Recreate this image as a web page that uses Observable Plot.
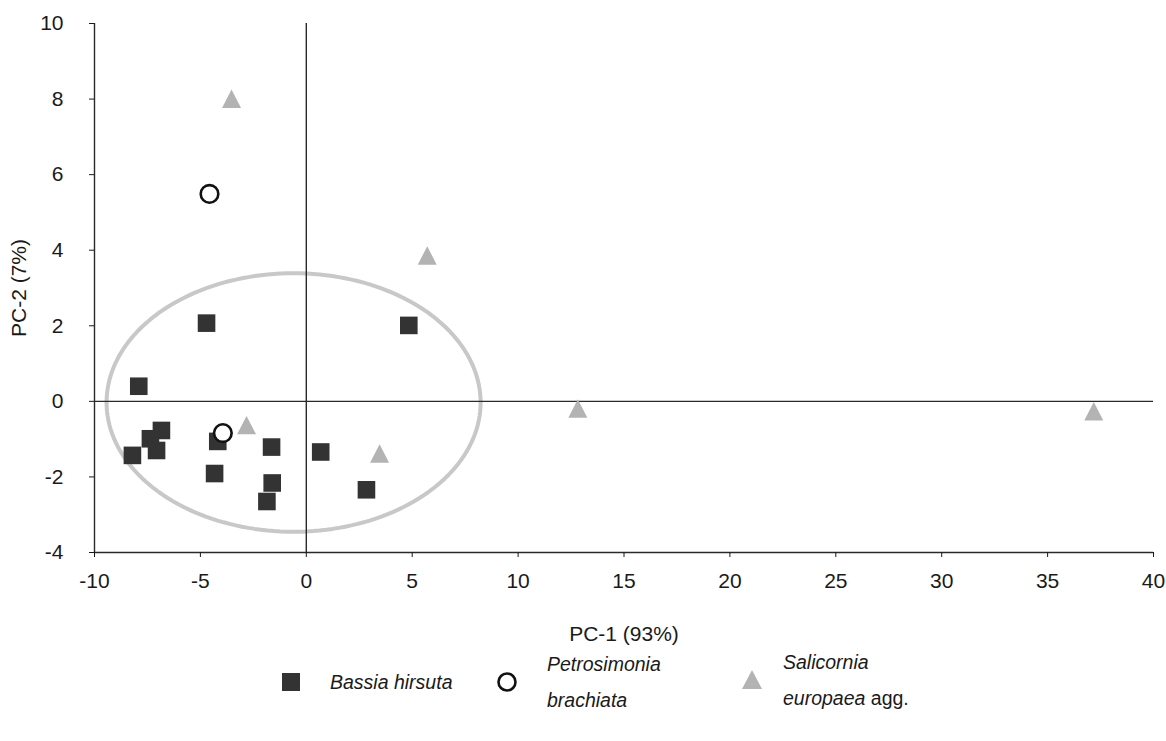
<!DOCTYPE html>
<html>
<head>
<meta charset="utf-8">
<script src="https://cdn.jsdelivr.net/npm/d3@7"></script>
<script src="https://cdn.jsdelivr.net/npm/@observablehq/plot@0.6"></script>
<style>
  html, body { margin: 0; padding: 0; background: #fff; }
  #wrap { position: relative; width: 1166px; height: 741px; font-family: "Liberation Sans", Arial, sans-serif; color: #1a1a1a; }
  .lg { position: absolute; font-size: 19.5px; line-height: 36px; white-space: nowrap; }
  .lg i { font-style: italic; }
  .sw { position: absolute; }
</style>
</head>
<body>
<div id="wrap"></div>
<script>
// ---- data ----
const xDomain = [-10, 40];
const yDomain = [-4, 10];
const xTicks = [-10, -5, 0, 5, 10, 15, 20, 25, 30, 35, 40];
const yTicks = [-4, -2, 0, 2, 4, 6, 8, 10];

const bassiaX = [-4.71, -7.91, -6.84, -7.36, -8.21, -7.07, -4.18, -1.64, -4.33, -1.61, -1.86, 0.68, 4.84, 2.84];
const bassiaY = [2.07, 0.40, -0.77, -0.99, -1.43, -1.30, -1.06, -1.21, -1.91, -2.16, -2.65, -1.34, 2.01, -2.34];

const petroX = [-4.57, -3.94];
const petroY = [5.49, -0.84];

const saliX = [-3.53, 5.71, -2.82, 3.46, 12.82, 37.18];
const saliY = [8.01, 3.86, -0.63, -1.38, -0.19, -0.26];

// confidence ellipse: centre and semi-axes in data units
const ellipseCenter = [-0.60, -0.03];
const ellipseRadii = [8.83, 3.42];

const xLabel = "PC-1 (93%)";
const yLabel = "PC-2 (7%)";

// ---- build tables ----
const bassia = bassiaX.map((x, i) => ({x, y: bassiaY[i]}));
const petro = petroX.map((x, i) => ({x, y: petroY[i]}));
const sali = saliX.map((x, i) => ({x, y: saliY[i]}));
const ellipse = d3.range(0, 360, 2).map(a => {
  const t = a * Math.PI / 180;
  return {x: ellipseCenter[0] + ellipseRadii[0] * Math.cos(t), y: ellipseCenter[1] + ellipseRadii[1] * Math.sin(t)};
});

const squareSym = {draw(ctx) { const s = 8.8; ctx.moveTo(-s, -s); ctx.lineTo(s, -s); ctx.lineTo(s, s); ctx.lineTo(-s, s); ctx.closePath(); }};
const triSym = {draw(ctx) { const w = 9.5, h = 9.2; ctx.moveTo(0, -h); ctx.lineTo(w, h); ctx.lineTo(-w, h); ctx.closePath(); }};

const fmt = d => String(d);
const font = "'Liberation Sans', Arial, sans-serif";

const chart = Plot.plot({
  width: 1166,
  height: 645,
  marginLeft: 94,
  marginRight: 13,
  marginTop: 23,
  marginBottom: 93,
  x: {domain: xDomain},
  y: {domain: yDomain},
  style: {fontFamily: font, fontSize: "21px", color: "#1a1a1a", background: "white"},
  marks: [
    Plot.line(ellipse, {x: "x", y: "y", curve: "linear-closed", stroke: "#c8c8c8", strokeWidth: 4}),
    Plot.ruleX([xDomain[0], 0], {stroke: "#2a2a2a", strokeWidth: 1.4}),
    Plot.ruleY([yDomain[0], 0], {stroke: "#2a2a2a", strokeWidth: 1.4}),
    Plot.axisX({ticks: xTicks, tickFormat: fmt, tickSize: 5, tickPadding: 16, label: null, fontSize: 21}),
    Plot.axisY({ticks: yTicks, tickFormat: fmt, tickSize: 5, tickPadding: 26, label: null, fontSize: 21}),
    Plot.dot(bassia, {x: "x", y: "y", symbol: squareSym, fill: "#333333", stroke: "none"}),
    Plot.dot(sali, {x: "x", y: "y", symbol: triSym, fill: "#b3b3b3", stroke: "none"}),
    Plot.dot(petro, {x: "x", y: "y", r: 8.8, fill: "white", stroke: "#111", strokeWidth: 2.6}),
    Plot.text([xLabel], {text: d => d, frameAnchor: "bottom", lineAnchor: "middle", textAnchor: "middle", dy: 82, fontSize: 21}),
    Plot.text([yLabel], {text: d => d, frameAnchor: "left", textAnchor: "middle", lineAnchor: "middle", dx: -75, rotate: -90, fontSize: 21})
  ]
});

const wrap = document.getElementById("wrap");
wrap.appendChild(chart);

// ---- legend (HTML below the plot) ----
const legendNames = [["Bassia hirsuta"], ["Petrosimonia", "brachiata"], ["Salicornia", "europaea"]];
function add(html, left, top, cls) {
  const d = document.createElement("div");
  d.className = cls; d.style.left = left + "px"; d.style.top = top + "px";
  d.innerHTML = html; wrap.appendChild(d);
}
add('<svg width="18" height="18"><rect x="0" y="0" width="18" height="18" fill="#333"/></svg>', 282, 673, "sw");
add('<i>' + legendNames[0][0] + '</i>', 330, 664, "lg");
add('<svg width="22" height="22"><circle cx="11" cy="11" r="8.5" fill="white" stroke="#111" stroke-width="2.6"/></svg>', 496, 671, "sw");
add('<i>' + legendNames[1][0] + '</i><br><i>' + legendNames[1][1] + '</i>', 547, 646, "lg");
add('<svg width="20" height="19"><path d="M10,0L20,19L0,19Z" fill="#b3b3b3"/></svg>', 742, 670, "sw");
add('<i>' + legendNames[2][0] + '</i><br><i>' + legendNames[2][1] + '</i> agg.', 783, 644, "lg");
</script>
</body>
</html>
